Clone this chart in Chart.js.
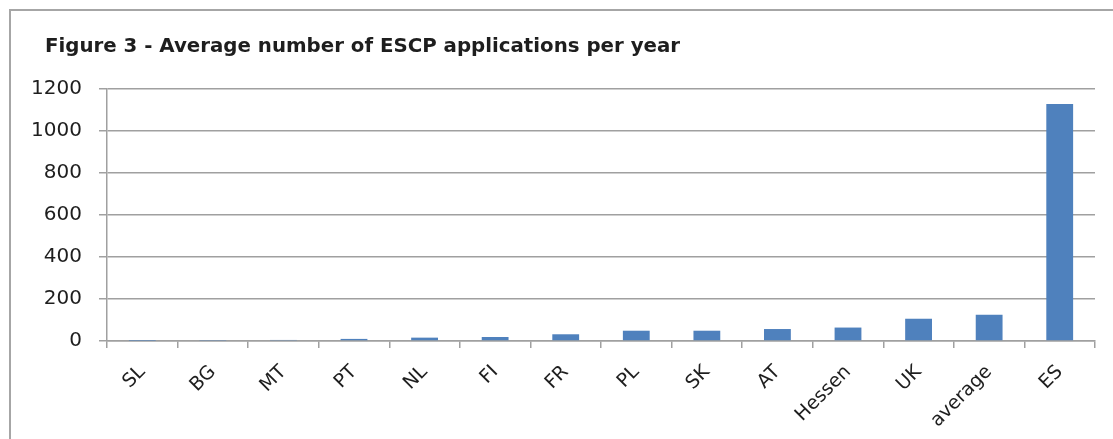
<!DOCTYPE html>
<html>
<head>
<meta charset="utf-8">
<script src="https://cdn.jsdelivr.net/npm/chart.js@4"></script>
<style>
  html, body { margin: 0; padding: 0; background: #fff; overflow: hidden; }
  #frame {
    position: absolute; left: 9px; top: 9px; width: 1130px; height: 460px;
    border: 2px solid #a6a6a6; box-sizing: border-box;
  }
  #wrap { position: absolute; left: 0; top: 0; width: 1113px; height: 439px; }
</style>
</head>
<body>
<div id="frame"></div>
<div id="wrap"><canvas id="chart"></canvas></div>
<script>
// Datos del gráfico
const categories = ['SL', 'BG', 'MT', 'PT', 'NL', 'FI', 'FR', 'PL', 'SK', 'AT', 'Hessen', 'UK', 'average', 'ES'];
const applications = [1, 2, 5, 10, 16, 19, 32, 49, 49, 57, 64, 106, 125, 1129];
const yTicks = [0, 200, 400, 600, 800, 1000, 1200];
const titleText = 'Figure 3 - Average number of ESCP applications per year';

const FONT = "'DejaVu Sans', sans-serif";

// Título dibujado a mano para poder alinearlo como en el original
const titlePlugin = {
  id: 'sideTitle',
  afterDraw(chart) {
    const c = chart.ctx;
    c.save();
    c.font = 'bold 19.8px ' + FONT;
    c.fillStyle = '#1e1e1e';
    c.textBaseline = 'alphabetic';
    c.textAlign = 'left';
    c.fillText(titleText, 45, 52);
    c.restore();
  }
};

const ctx = document.getElementById('chart').getContext('2d');
new Chart(ctx, {
  type: 'bar',
  data: {
    labels: categories,
    datasets: [{
      data: applications,
      backgroundColor: '#4f81bd',
      borderWidth: 0,
      barPercentage: 0.38,
      categoryPercentage: 1,
    }],
  },
  options: {
    responsive: true,
    maintainAspectRatio: false,
    animation: false,
    layout: { padding: { top: 89, right: 18, left: 0, bottom: 0 } },
    plugins: {
      legend: { display: false },
      tooltip: { enabled: false },
    },
    scales: {
      x: {
        grid: {
          offset: true,
          drawOnChartArea: false,
          drawTicks: true,
          tickLength: 7,
          color: '#a0a0a0',
          lineWidth: 1.5,
        },
        border: { color: '#a0a0a0', width: 1.5 },
        ticks: {
          color: '#1e1e1e',
          font: { family: FONT, size: 19 },
          minRotation: 45,
          maxRotation: 45,
          padding: 13,
          autoSkip: false,
        },
        afterFit(scale) { scale.height = 98; },
      },
      y: {
        min: 0,
        max: 1200,
        afterBuildTicks(scale) { scale.ticks = yTicks.map(v => ({ value: v })); },
        grid: { color: '#a0a0a0', lineWidth: 1.5, tickLength: 8 },
        border: { color: '#a0a0a0', width: 1.5 },
        ticks: {
          color: '#1e1e1e',
          font: { family: FONT, size: 20 },
          padding: 17,
          callback: v => String(v),
        },
        afterFit(scale) { scale.width = 107; },
      },
    },
  },
  plugins: [titlePlugin],
});
</script>
</body>
</html>
